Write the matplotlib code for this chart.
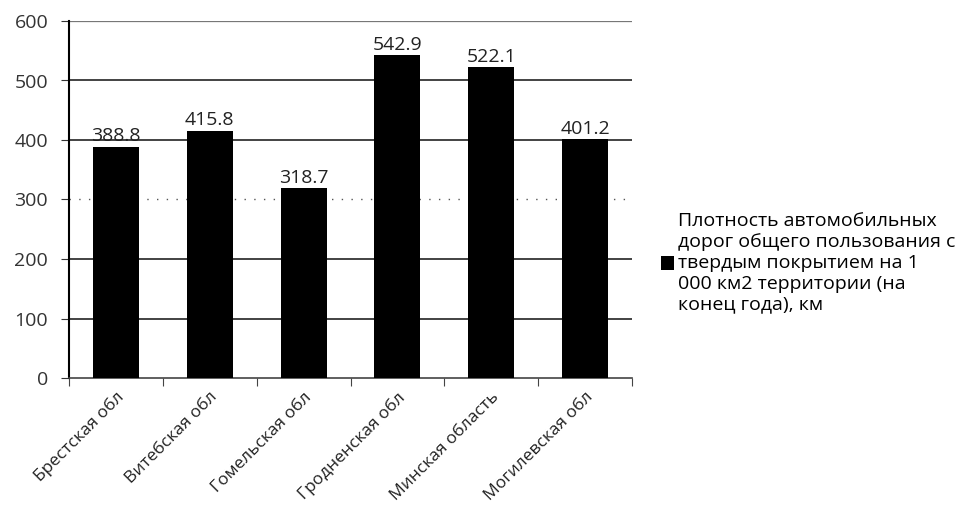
import numpy as np
import matplotlib.pyplot as plt

# Плотность дорог по областям, км на 1000 км2
regions = ['Брестская обл', 'Витебская обл', 'Гомельская обл',
           'Гродненская обл', 'Минская область', 'Могилевская обл']
density = [388.8, 415.8, 318.7, 542.9, 522.1, 401.2]
legend_text = ('Плотность автомобильных\nдорог общего пользования с\n'
               'твердым покрытием на 1\n000 км2 территории (на\nконец года), км')

plt.rcParams['font.family'] = ['Open Sans', 'DejaVu Sans']

fig = plt.figure(figsize=(9.76, 5.07), dpi=100)
ax = fig.add_axes([69 / 976, 1 - 378 / 507, (632 - 69) / 976, (378 - 21) / 507])

x = np.arange(len(regions))
bars = ax.bar(x, density, width=0.49, color='black', zorder=3, label=legend_text)

for xi, v in zip(x, density):
    ax.text(xi, v + 2, f'{v:.1f}', ha='center', va='bottom', fontsize=14,
            color='#222222', zorder=4)

ax.set_xlim(-0.5, len(regions) - 0.5)
ax.set_ylim(0, 600)
ax.set_yticks(np.arange(0, 601, 100))
ax.tick_params(axis='y', labelsize=14, length=6, direction='out', pad=9, colors='#333333')

# сетка: линия 300 пунктиром, остальные сплошные
for y in range(100, 601, 100):
    if y == 300:
        ax.axhline(y, color='#555555', lw=1.0, ls=(0, (1, 6)), zorder=1)
    elif y == 600:
        ax.axhline(y, color='#777777', lw=0.9, zorder=1)
    else:
        ax.axhline(y, color='#222222', lw=1.2, zorder=1)

# засечки на границах категорий
ax.set_xticks(np.arange(-0.5, len(regions), 1.0))
ax.set_xticklabels([])
ax.set_xticks(x, minor=True)
ax.set_xticklabels(regions, minor=True, rotation=45, ha='right', va='top',
                   rotation_mode='anchor', fontsize=12.5, color='#222222')
ax.tick_params(axis='x', which='major', length=6, direction='out', color='#444444')
ax.tick_params(axis='x', which='minor', length=0, pad=8)

ax.spines['top'].set_visible(False)
ax.spines['right'].set_visible(False)
ax.spines['left'].set_linewidth(1.5)
ax.spines['bottom'].set_color('#444444')
ax.spines['bottom'].set_linewidth(1.2)

fig.legend(handles=[bars], labels=[legend_text], loc='center left',
           bbox_to_anchor=(643 / 976, 1 - 263 / 507), frameon=False, fontsize=14,
           handlelength=0.7, handleheight=0.7, handletextpad=0.2, labelspacing=0.2)

fig.savefig('out.png', dpi=100, facecolor='white')
